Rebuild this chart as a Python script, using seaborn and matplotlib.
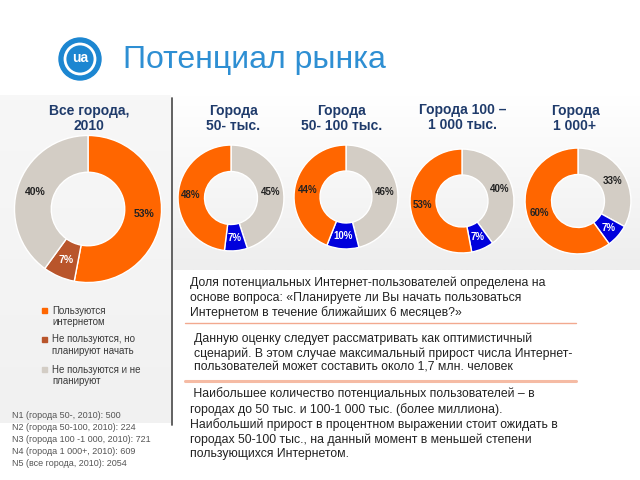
import matplotlib
matplotlib.use("Agg")
import matplotlib.pyplot as plt
import seaborn as sns
import numpy as np
from matplotlib.patches import Rectangle, Circle

# ---------------- data ----------------
groups = ["Все города,\n2010", "Города\n50- тыс.", "Города\n50- 100 тыс.",
          "Города 100 –\n1 000 тыс.", "Города\n1 000+"]
used = [53, 48, 44, 53, 60]        # Пользуются интернетом
plan = [7, 7, 10, 7, 7]            # Не пользуются, но планируют начать
notplan = [40, 45, 46, 40, 33]     # Не пользуются и не планируют
legend_labels = ["Пользуются\nинтернетом", "Не пользуются, но\nпланируют начать",
                 "Не пользуются и не\nпланируют"]
sample_notes = ["N1 (города 50-, 2010): 500", "N2 (города 50-100, 2010): 224",
                "N3 (города 100 -1 000, 2010): 721", "N4 (города 1 000+, 2010): 609",
                "N5 (все города, 2010): 2054"]
title = "Потенциал рынка"
para1 = ("Доля потенциальных Интернет-пользователей определена на\n"
         "основе вопроса: «Планируете ли Вы начать пользоваться\n"
         "Интернетом в течение ближайших 6 месяцев?»")
para2 = ("Данную оценку следует рассматривать как оптимистичный\n"
         "сценарий. В этом случае максимальный прирост числа Интернет-\n"
         "пользователей может составить около 1,7 млн. человек")
para3 = (" Наибольшее количество потенциальных пользователей – в\n"
         "городах до 50 тыс. и 100-1 000 тыс. (более миллиона).\n"
         "Наибольший прирост в процентном выражении стоит ожидать в\n"
         "городах 50-100 тыс., на данный момент в меньшей степени\n"
         "пользующихся Интернетом.")

ORANGE = "#FF6600"
BROWN = "#B9552B"
GREY = "#D3CDC5"
BLUE = "#0000DC"
NAVY = "#1F3B6B"

sns.set_theme(style="white")
plt.rcParams['font.family'] = ['Liberation Sans', 'DejaVu Sans']

fig = plt.figure(figsize=(6.4, 4.8), dpi=100)
bg = fig.add_axes([0, 0, 1, 1])
bg.axis('off')

def grad_panel(x0, x1, y0, y1, top, bottom):
    n = 64
    t = np.linspace(0, 1, n)[:, None, None]
    c0 = np.array(matplotlib.colors.to_rgb(top))[None, None, :]
    c1 = np.array(matplotlib.colors.to_rgb(bottom))[None, None, :]
    img = c0 * (1 - t) + c1 * t
    bg.imshow(img, extent=[x0, x1, y1, y0], origin='upper', aspect='auto', zorder=0)

grad_panel(0, 171, 95, 423, "#F7F7F7", "#F1F1F1")
grad_panel(173, 640, 95, 270, "#FFFFFF", "#EEEEEE")
bg.set_xlim(0, 640)
bg.set_ylim(480, 0)

# logo
bg.add_patch(Circle((80, 59), 21, color="#1C86D1", zorder=2))
bg.add_patch(Circle((80, 59), 15, fill=False, ec="white", lw=2, zorder=3))
bg.text(80, 58, "ua", color="white", fontsize=10, fontweight="bold",
        ha="center", va="center", zorder=4)

bg.text(123, 60, title, fontsize=23, color="#2E8FD3", ha="left", va="center")

# separator vertical line
bg.plot([172, 172], [98, 425], color="#555555", lw=1.3, zorder=3)

# donuts
centers = [(88, 209, 75), (231, 198, 54), (346, 197, 53), (462, 201, 53), (578, 201, 54)]
title_pos = [(89, 118.5), (233, 118.5), (342, 118.5), (463, 117.5), (575, 118.5)]

for i, (cx, cy, r) in enumerate(centers):
    ax = fig.add_axes([(cx - r) / 640, 1 - (cy + r) / 480, 2 * r / 640, 2 * r / 480])
    if i == 0:
        vals = [used[i], plan[i], notplan[i]]
        cols = [ORANGE, BROWN, GREY]
    else:
        vals = [notplan[i], plan[i], used[i]]
        cols = [GREY, BLUE, ORANGE]
    tcols = ["#222222", "white", "#222222"]
    wedges, texts, autotexts = ax.pie(
        vals, colors=cols, startangle=90, counterclock=False, radius=1,
        autopct='%.0f%%', pctdistance=0.76,
        wedgeprops=dict(width=0.5, edgecolor="white", linewidth=1))
    for t, c in zip(autotexts, tcols):
        t.set_color(c)
        t.set_fontsize(7.5 if i == 0 else 7)
        t.set_fontweight("bold")
    ax.set_xlim(-1.02, 1.02)
    ax.set_ylim(-1.02, 1.02)
    ax.axis('off')
    tx, ty = title_pos[i]
    bg.text(tx, ty, groups[i], fontsize=10, fontweight="bold", color=NAVY,
            ha="center", va="center", linespacing=1.15)

# legend
leg_y = [316.5, 345, 375.5]
for c, lab, y in zip([ORANGE, BROWN, GREY], legend_labels, leg_y):
    bg.add_patch(Rectangle((42, y - 8.5), 5, 5, color=c, zorder=3))
    bg.text(52, y, lab, fontsize=7, color="#3A3A3A", ha="left", va="center",
            linespacing=1.2)

for k, note in enumerate(sample_notes):
    bg.text(12, 416 + 12 * k, note, fontsize=6.5, color="#555555",
            ha="left", va="center")

# paragraphs
bg.text(190, 298, para1, fontsize=8.8, color="#222222", ha="left", va="center",
        linespacing=1.25)
bg.plot([185, 576], [323, 323], color="#F2A98F", lw=1)
bg.text(194, 353, para2, fontsize=8.8, color="#222222", ha="left", va="center",
        linespacing=1.25)
bg.plot([185, 576], [381, 381], color="#F5BBA4", lw=2.2)
bg.text(190, 424, para3, fontsize=8.8, color="#222222", ha="left", va="center",
        linespacing=1.25)

fig.savefig("out.png", dpi=100)
